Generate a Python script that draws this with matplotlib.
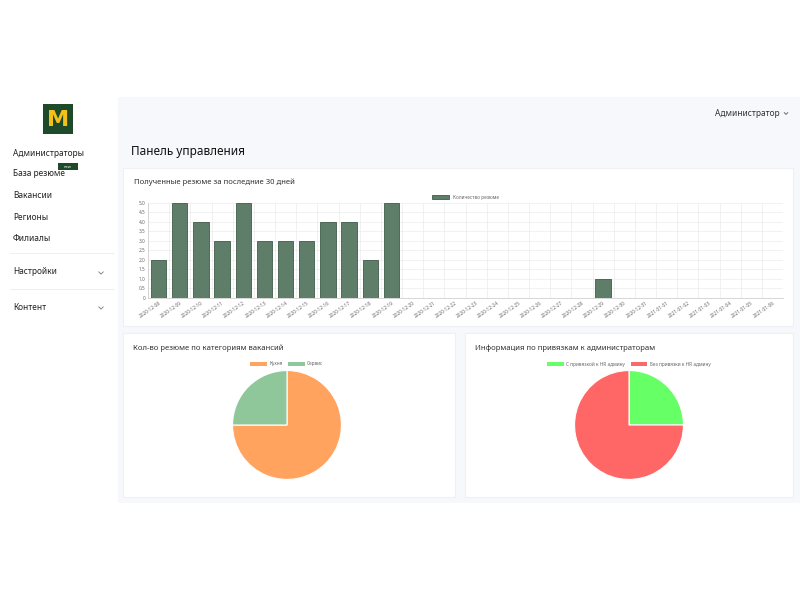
import matplotlib.pyplot as plt
from matplotlib.patches import Rectangle, Patch
from matplotlib.lines import Line2D
import numpy as np

plt.rcParams['font.family'] = ['Noto Sans', 'DejaVu Sans']

# --------------------------------------------------------------------------- #
# Data
# --------------------------------------------------------------------------- #
dates = ["2020-12-08", "2020-12-09", "2020-12-10", "2020-12-11", "2020-12-12",
         "2020-12-13", "2020-12-14", "2020-12-15", "2020-12-16", "2020-12-17",
         "2020-12-18", "2020-12-19", "2020-12-20", "2020-12-21", "2020-12-22",
         "2020-12-23", "2020-12-24", "2020-12-25", "2020-12-26", "2020-12-27",
         "2020-12-28", "2020-12-29", "2020-12-30", "2020-12-31", "2021-01-01",
         "2021-01-02", "2021-01-03", "2021-01-04", "2021-01-05", "2021-01-06"]
resume_counts = [2, 5, 4, 3, 5, 3, 3, 3, 4, 4, 2, 5, 0, 0, 0,
                 0, 0, 0, 0, 0, 0, 1, 0, 0, 0, 0, 0, 0, 0, 0]

category_labels = ["Кухня", "Сервис"]
category_values = [3, 1]

admin_labels = ["С привязкой к HR админу", "Без привязки к HR админу"]
admin_values = [1, 3]

menu_items = ["Администраторы", "База резюме", "Вакансии", "Регионы", "Филиалы"]

W, H = 800, 600
fig = plt.figure(figsize=(8, 6), dpi=100)
fig.patch.set_facecolor("white")


def box(x, y, w, h):
    """pixel box (top-left origin) -> figure fraction rect"""
    return [x / W, 1 - (y + h) / H, w / W, h / H]


def rect(x, y, w, h, fc, ec="none", lw=0.8, z=-1):
    l, b, ww, hh = box(x, y, w, h)
    fig.patches.append(Rectangle((l, b), ww, hh, transform=fig.transFigure,
                                 facecolor=fc, edgecolor=ec, lw=lw, zorder=z))


def txt(x, y, s, **kw):
    fig.text(x / W, 1 - y / H, s, **kw)


def chevron(x, y, size=2.2, color="#777777"):
    xs = np.array([x - size, x, x + size]) / W
    ys = 1 - np.array([y - size / 2, y + size / 2, y - size / 2]) / H
    fig.add_artist(Line2D(xs, ys, color=color, lw=0.6, transform=fig.transFigure))


# --- page background --- #
rect(118, 97, 682, 406, "#f6f8fb")
rect(0, 97, 118, 406, "white")
rect(117.5, 97, 0.8, 406, "#eef1f5")

# cards
rect(123, 168, 670, 158, "white", ec="#edf0f4")
rect(123, 333, 332, 164, "white", ec="#edf0f4")
rect(465, 333, 328, 164, "white", ec="#edf0f4")

# --- sidebar --- #
rect(43, 104, 30, 30, "#1e4a2a")
txt(58, 120, "M", color="#f3c21a", fontsize=16, fontweight="bold",
    family="DejaVu Sans", ha="center", va="center")
menu_y = [153, 174, 196, 217, 238]
for label, yy in zip(menu_items, menu_y):
    txt(13, yy, label, fontsize=6, color="#222222", va="center")
rect(58, 163, 20, 7, "#1e4a2a")
txt(68, 166.5, "new", fontsize=2.8, color="white", ha="center", va="center")
rect(10, 253, 105, 0.6, "#eceff3")
txt(13, 272, "Настройки", fontsize=6, color="#222222", va="center")
chevron(101, 273)
rect(10, 289, 105, 0.6, "#eceff3")
txt(13, 307, "Контент", fontsize=6, color="#222222", va="center")
chevron(101, 308)

# --- header --- #
txt(780, 113, "Администратор", fontsize=6, color="#333333", va="center", ha="right")
chevron(786, 113.5, size=1.8, color="#555555")
txt(131, 151, "Панель управления", fontsize=8.5, color="#111111",
    va="center", fontweight="medium")

# --- bar chart --- #
txt(134, 182, "Полученные резюме за последние 30 дней", fontsize=5.5,
    color="#333333", va="center")
ax = fig.add_axes(box(148, 203, 635, 95))
ax.set_zorder(5)
ax.patch.set_alpha(0)
x = np.arange(len(dates))
ax.bar(x, resume_counts, width=0.72, color="#5f7e69", edgecolor="#3f5c49",
       lw=0.6, zorder=3, label="Количество резюме")
ax.set_xlim(-0.5, len(dates) - 0.5)
ax.set_ylim(0, 5)
yt = np.arange(0, 5.01, 0.5)
ax.set_yticks(yt)
ax.set_yticklabels(["0"] + [f"{v:.1f}" for v in yt[1:]])
ax.set_xticks(x)
ax.set_xticklabels(dates, rotation=35, ha="right", rotation_mode="anchor")
ax.set_xticks(np.arange(-0.5, len(dates), 1), minor=True)
ax.tick_params(axis="both", labelsize=3.4, colors="#666666", length=0, pad=2)
ax.tick_params(axis="x", which="minor", length=0)
ax.grid(axis="y", color="#ebebeb", lw=0.5, zorder=0)
ax.grid(axis="x", which="minor", color="#ebebeb", lw=0.5, zorder=0)
for s in ["top", "right"]:
    ax.spines[s].set_visible(False)
for s in ["left", "bottom"]:
    ax.spines[s].set_color("#d0d0d0")
    ax.spines[s].set_linewidth(0.6)
ax.legend(loc="lower center", bbox_to_anchor=(0.5, 1.0), frameon=False,
          fontsize=3.4, handlelength=3.5, handleheight=0.8, borderaxespad=0.3,
          labelcolor="#666666")


# --- pies --- #
def pie(cx, cy, r, values, labels, colors):
    pax = fig.add_axes(box(cx - r, cy - r, 2 * r, 2 * r))
    pax.set_zorder(5)
    pax.pie(values, colors=colors, startangle=90, counterclock=False,
            wedgeprops=dict(edgecolor="white", linewidth=0.8))
    pax.set_xlim(-1.01, 1.01)
    pax.set_ylim(-1.01, 1.01)
    pax.set_aspect("equal")
    handles = [Patch(facecolor=c, edgecolor="none") for c in colors]
    fig.legend(handles, labels, loc="center", ncol=2, frameon=False,
               bbox_to_anchor=(cx / W, 1 - 364 / H), fontsize=3.4,
               handlelength=3.5, handleheight=0.8, columnspacing=1.2,
               handletextpad=0.5, labelcolor="#666666")


txt(133, 348, "Кол-во резюме по категориям вакансий", fontsize=5.5,
    color="#333333", va="center")
pie(287, 425, 55, category_values, category_labels, ["#ffa35f", "#90c79a"])

txt(475, 348, "Информация по привязкам к администраторам", fontsize=5.5,
    color="#333333", va="center")
pie(629, 425, 55, admin_values, admin_labels, ["#66ff66", "#ff6666"])

fig.savefig("out.png", dpi=100)
